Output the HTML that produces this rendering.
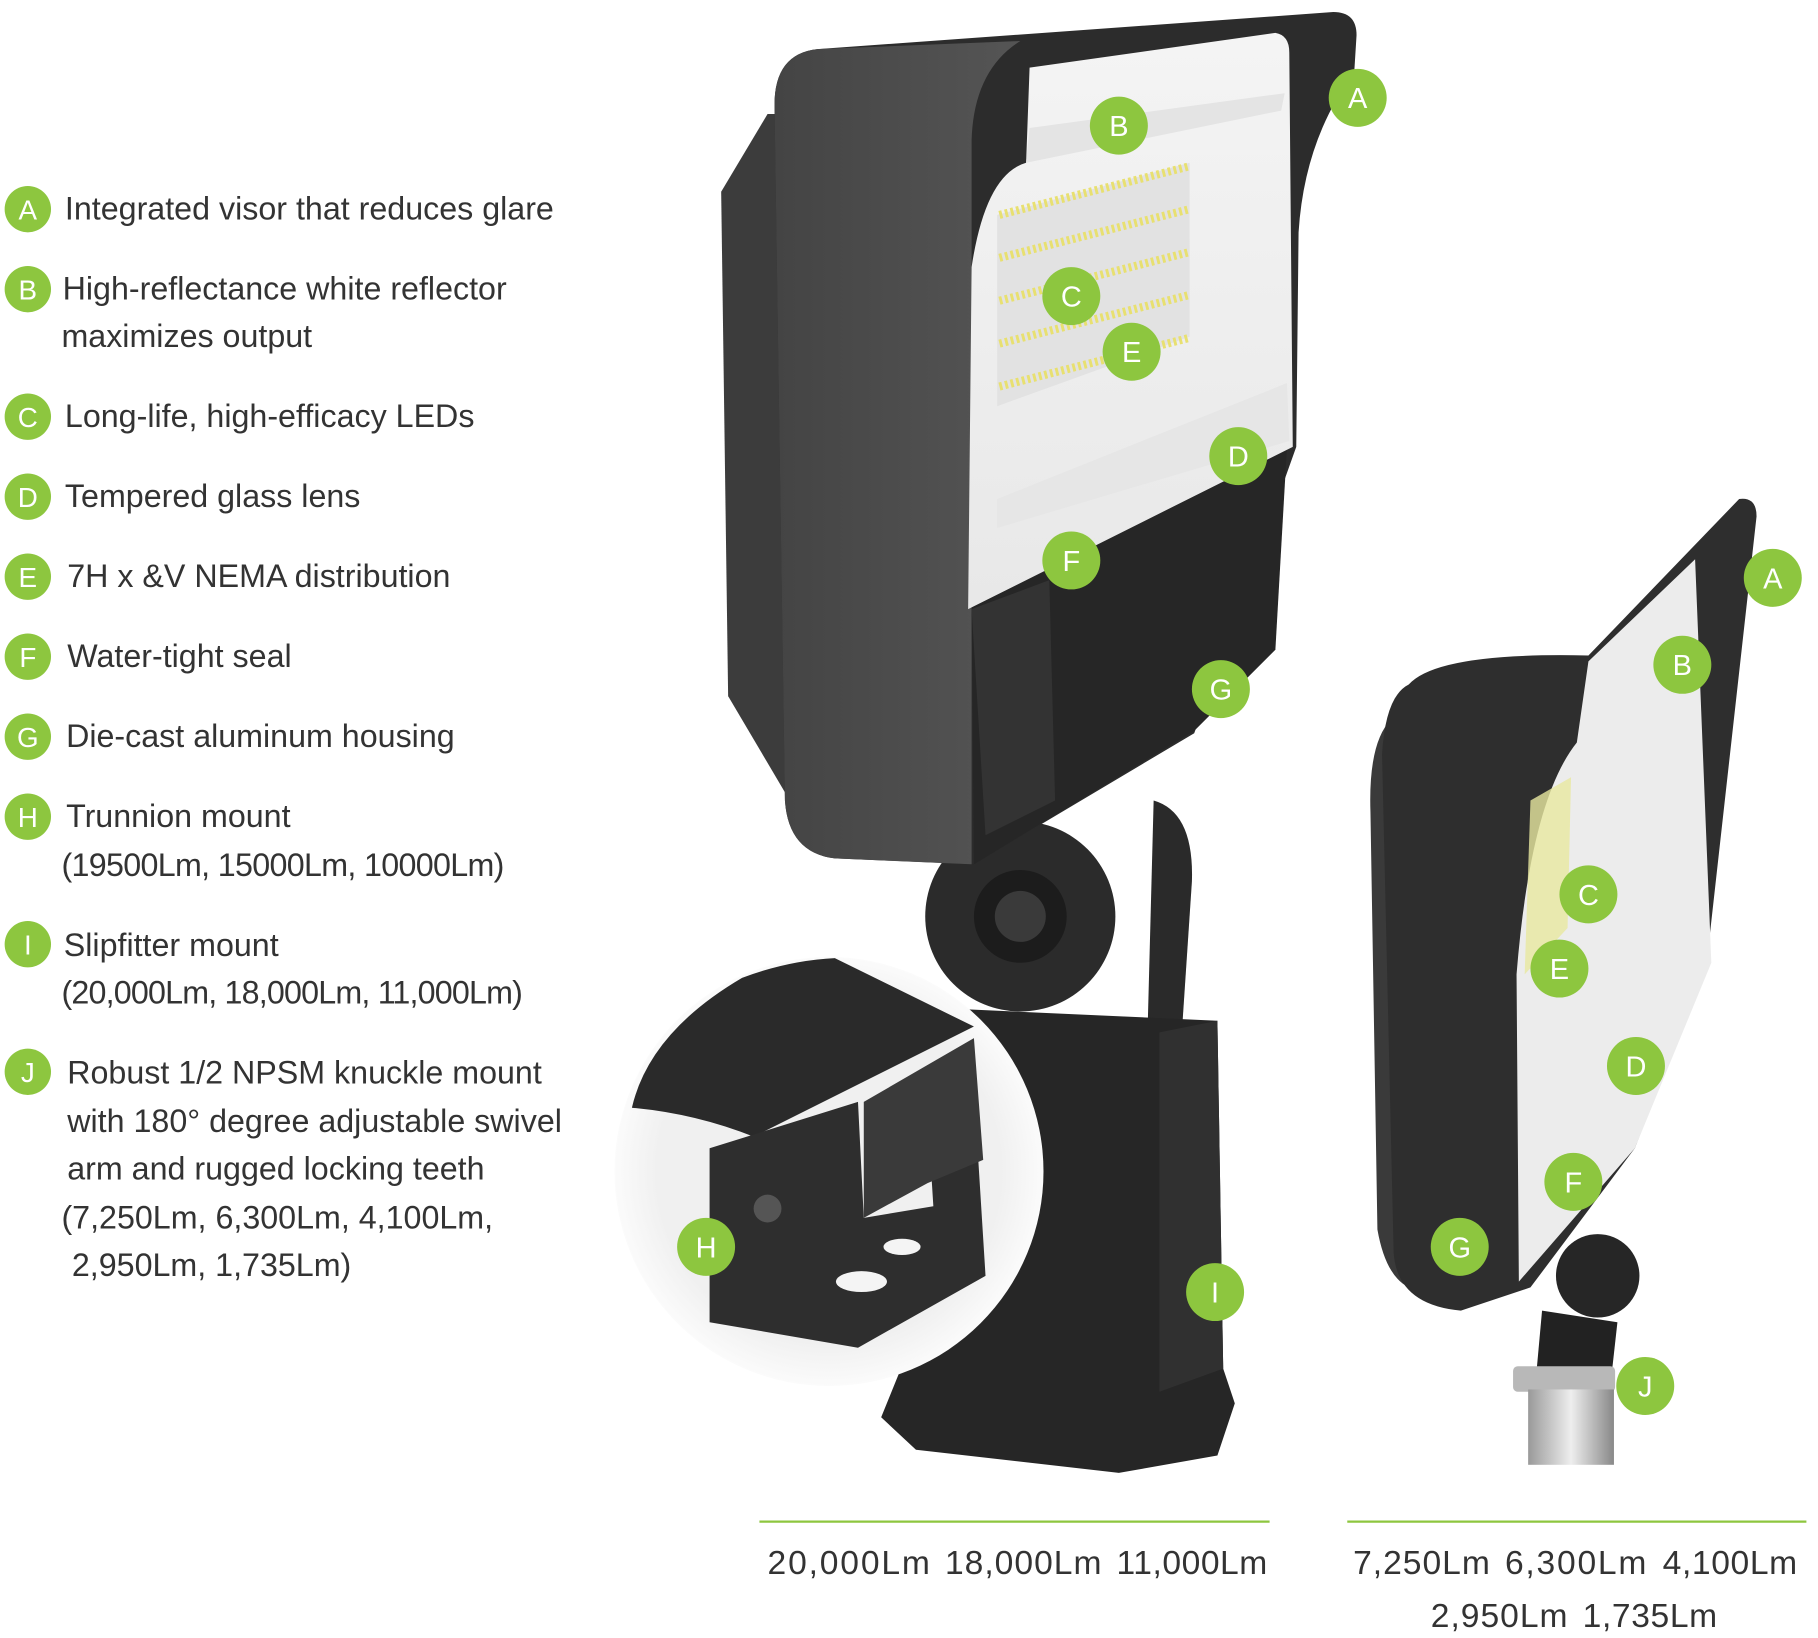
<!DOCTYPE html>
<html><head><meta charset="utf-8"><style>html,body{margin:0;padding:0;background:#fff}svg{display:block}</style></head>
<body>
<svg width="1818" height="1638" viewBox="0 0 1568 1412" xmlns="http://www.w3.org/2000/svg" font-family="Liberation Sans, sans-serif">
<defs>
<radialGradient id="ins" cx="0.5" cy="0.5" r="0.5"><stop offset="0.8" stop-color="#f0f0f0"/><stop offset="1" stop-color="#fbfbfb"/></radialGradient>
<linearGradient id="refl" x1="0" y1="0" x2="0" y2="1"><stop offset="0" stop-color="#f4f4f4"/><stop offset="1" stop-color="#e8e8e8"/></linearGradient>
<linearGradient id="side" x1="0" y1="0" x2="1" y2="0"><stop offset="0" stop-color="#444"/><stop offset="1" stop-color="#555"/></linearGradient>
<linearGradient id="pipe" x1="0" y1="0" x2="1" y2="0"><stop offset="0" stop-color="#999"/><stop offset="0.5" stop-color="#eee"/><stop offset="1" stop-color="#888"/></linearGradient>
</defs>

<!-- Left list -->
<g fill="#333" font-size="27.8">
<text x="56" y="189">Integrated visor that reduces glare</text>
<text x="54" y="258">High-reflectance white reflector</text>
<text x="53" y="299">maximizes output</text>
<text x="56" y="368">Long-life, high-efficacy LEDs</text>
<text x="56" y="437">Tempered glass lens</text>
<text x="58" y="506">7H x &amp;V NEMA distribution</text>
<text x="58" y="575">Water-tight seal</text>
<text x="57" y="644">Die-cast aluminum housing</text>
<text x="57" y="713">Trunnion mount</text>
<text x="53" y="755" textLength="382">(19500Lm, 15000Lm, 10000Lm)</text>
<text x="55" y="824">Slipfitter mount</text>
<text x="53" y="865" textLength="398">(20,000Lm, 18,000Lm, 11,000Lm)</text>
<text x="58" y="934">Robust 1/2 NPSM knuckle mount</text>
<text x="58" y="976">with 180° degree adjustable swivel</text>
<text x="58" y="1017">arm and rugged locking teeth</text>
<text x="53" y="1059">(7,250Lm, 6,300Lm, 4,100Lm,</text>
<text x="62" y="1100">2,950Lm, 1,735Lm)</text>
</g>
<g fill="#8dc63f">
<circle cx="24" cy="180" r="20"/><circle cx="24" cy="249" r="20"/><circle cx="24" cy="359" r="20"/><circle cx="24" cy="428" r="20"/><circle cx="24" cy="497" r="20"/><circle cx="24" cy="566" r="20"/><circle cx="24" cy="635" r="20"/><circle cx="24" cy="704" r="20"/><circle cx="24" cy="814" r="20"/><circle cx="24" cy="924" r="20"/>
</g>
<g fill="#fff" font-size="24" text-anchor="middle">
<text x="24" y="189">A</text><text x="24" y="258">B</text><text x="24" y="368">C</text><text x="24" y="437">D</text><text x="24" y="506">E</text><text x="24" y="575">F</text><text x="24" y="644">G</text><text x="24" y="713">H</text><text x="24" y="823">I</text><text x="24" y="933">J</text>
</g>

<!-- Big light: stand -->
<path d="M995,690 Q1030,700 1028,760 L1020,880 L990,880 Z" fill="#2a2a2a"/>
<circle cx="880" cy="790" r="82" fill="#2b2b2b"/>
<circle cx="880" cy="790" r="40" fill="#1c1c1c"/>
<circle cx="880" cy="790" r="22" fill="#3a3a3a"/>
<path d="M830,870 L1050,880 L1055,1180 L1065,1210 L1050,1255 L965,1270 L790,1250 L760,1222 L775,1185 L780,890 Z" fill="#262626"/>
<path d="M1000,890 L1050,880 L1055,1180 L1000,1200 Z" fill="#303030"/>

<!-- Big light: housing -->
<path d="M622,165 L662,98 L690,98 L690,705 L628,600 Z" fill="#3c3c3c"/>
<path d="M705,42 L1150,10 Q1170,10 1170,30 L1168,62 Q1125,120 1120,200 L1118,385 L1030,632 L840,745 L720,740 Q680,735 677,690 L668,90 Q668,46 705,42 Z" fill="#2c2c2c"/>
<path d="M705,42 L880,35 Q840,60 838,120 L838,745 L720,740 Q680,735 677,690 L668,90 Q668,46 705,42 Z" fill="url(#side)"/>
<path d="M838,520 L1110,385 L1100,560 L1030,630 L840,745 Z" fill="#262626"/>
<path d="M838,525 L905,500 L910,690 L850,720 Z" fill="#333"/>
<!-- reflector -->
<path d="M888,58 L1100,28 Q1112,30 1112,45 L1115,385 L835,525 L838,230 Q850,150 885,140 Z" fill="url(#refl)"/>
<path d="M885,140 L1105,95 L1108,80 L888,110 Z" fill="#e4e4e4"/>
<path d="M860,185 L1026,140 L1026,290 L860,350 Z" fill="#e2e2e2"/>
<path d="M860,430 L1110,330 L1112,380 L860,455 Z" fill="#e6e6e6"/>
<g stroke="#e8e070" stroke-width="7" stroke-dasharray="2.5 2.5">
<line x1="862" y1="185" x2="1026" y2="143"/>
<line x1="862" y1="222" x2="1026" y2="180"/>
<line x1="862" y1="259" x2="1026" y2="217"/>
<line x1="862" y1="296" x2="1026" y2="254"/>
<line x1="862" y1="333" x2="1026" y2="291"/>
</g>

<!-- Inset circle -->
<circle cx="715" cy="1010" r="185" fill="url(#ins)"/>
<path d="M640,843 Q680,828 720,826 L840,885 L650,980 Q600,960 545,955 Q560,890 640,843 Z" fill="#2a2a2a"/>
<path d="M612,990 L740,950 L745,1050 L805,1040 L800,960 L840,940 L850,1100 L740,1162 L612,1140 Z" fill="#2e2e2e"/>
<path d="M745,950 L840,895 L848,1000 L800,1020 L745,1050 Z" fill="#3a3a3a"/>
<ellipse cx="743" cy="1105" rx="22" ry="9" fill="#f4f4f4"/>
<ellipse cx="778" cy="1075" rx="16" ry="7" fill="#f4f4f4"/>
<circle cx="662" cy="1042" r="12" fill="#555"/>

<!-- Small light -->
<path d="M1200,620 Q1180,640 1182,700 L1188,1060 Q1195,1100 1215,1110 Z" fill="#3a3a3a"/>
<path d="M1215,590 Q1240,562 1370,565 L1500,430 Q1515,428 1515,445 L1472,830 L1410,990 L1320,1110 L1260,1130 Q1205,1125 1202,1080 L1192,650 Q1195,600 1215,590 Z" fill="#2e2e2e"/>
<path d="M1370,570 L1462,482 L1476,830 L1410,990 L1310,1105 L1308,840 Q1320,690 1360,640 Z" fill="#ececec"/>
<path d="M1320,690 L1355,670 L1352,800 L1315,840 Z" fill="#e8e8a0" opacity="0.8"/>
<circle cx="1378" cy="1100" r="36" fill="#262626"/>
<path d="M1330,1130 L1395,1140 L1390,1185 L1325,1185 Z" fill="#222"/>
<rect x="1305" y="1178" width="88" height="22" rx="4" fill="#b8b8b8"/>
<rect x="1318" y="1198" width="74" height="65" fill="url(#pipe)"/>

<!-- callouts -->
<g fill="#8dc63f">
<circle cx="1171" cy="84" r="25"/><circle cx="965" cy="108" r="25"/><circle cx="924" cy="255" r="25"/><circle cx="976" cy="303" r="25"/><circle cx="1068" cy="393" r="25"/><circle cx="924" cy="483" r="25"/><circle cx="1053" cy="594" r="25"/><circle cx="609" cy="1075" r="25"/><circle cx="1048" cy="1114" r="25"/>
<circle cx="1529" cy="498" r="25"/><circle cx="1451" cy="573" r="25"/><circle cx="1370" cy="771" r="25"/><circle cx="1345" cy="835" r="25"/><circle cx="1411" cy="919" r="25"/><circle cx="1357" cy="1019" r="25"/><circle cx="1259" cy="1075" r="25"/><circle cx="1419" cy="1195" r="25"/>
</g>
<g fill="#fff" font-size="25" text-anchor="middle">
<text x="1171" y="93">A</text><text x="965" y="117">B</text><text x="924" y="264">C</text><text x="976" y="312">E</text><text x="1068" y="402">D</text><text x="924" y="492">F</text><text x="1053" y="603">G</text><text x="609" y="1084">H</text><text x="1048" y="1123">I</text>
<text x="1529" y="507">A</text><text x="1451" y="582">B</text><text x="1370" y="780">C</text><text x="1345" y="844">E</text><text x="1411" y="928">D</text><text x="1357" y="1028">F</text><text x="1259" y="1084">G</text><text x="1419" y="1204">J</text>
</g>

<!-- Bottom lines & lumens -->
<line x1="655" y1="1312" x2="1095" y2="1312" stroke="#8dc63f" stroke-width="2"/>
<line x1="1162" y1="1312" x2="1558" y2="1312" stroke="#8dc63f" stroke-width="2"/>
<g fill="#333" font-size="29">
<text x="662" y="1357" textLength="140">20,000Lm</text>
<text x="815" y="1357" textLength="135">18,000Lm</text>
<text x="963" y="1357" textLength="130">11,000Lm</text>
<text x="1167" y="1357" textLength="118">7,250Lm</text>
<text x="1298" y="1357" textLength="122">6,300Lm</text>
<text x="1434" y="1357" textLength="116">4,100Lm</text>
<text x="1234" y="1403" textLength="118">2,950Lm</text>
<text x="1365" y="1403" textLength="116">1,735Lm</text>
</g>
</svg>
</body></html>
